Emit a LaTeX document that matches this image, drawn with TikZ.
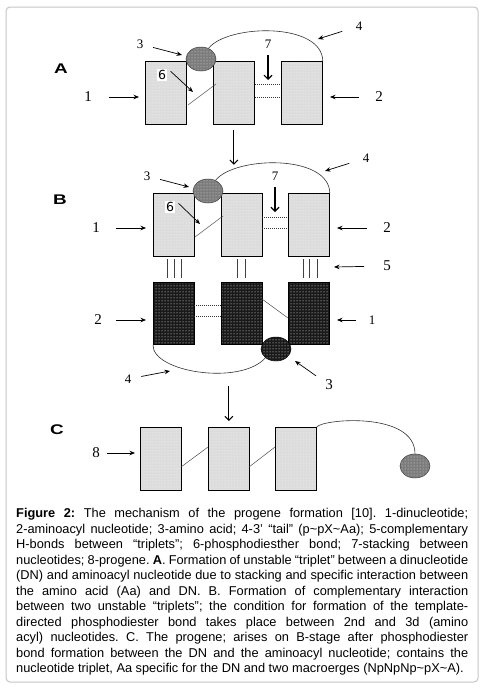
\documentclass[tikz,border=0pt]{standalone}
\usepackage{fontspec}
\setmainfont{Liberation Serif}
\newfontfamily\capfont{Liberation Sans}
\newfontfamily\sixfont{DejaVu Sans}
\usetikzlibrary{arrows.meta,shapes.geometric,patterns,positioning}
\definecolor{boxgray}{HTML}{DCDCDC}
\definecolor{aagray}{HTML}{7C7C7C}
\definecolor{framegray}{HTML}{C4C4C4}

\begin{document}
\begin{tikzpicture}[x=1pt, y=-1pt,
  nucl/.style={draw, line width=0.8pt, inner sep=0, minimum width=41pt, minimum height=63pt, anchor=north west, preaction={fill=boxgray}, pattern=dots, pattern color=white!85!boxgray},
  dnucl/.style={draw, line width=0.8pt, inner sep=0, minimum width=41pt, minimum height=62pt, anchor=north west, preaction={fill=black!90}, pattern=dots, pattern color=white},
  aa/.style={ellipse, draw=black!75, line width=0.5pt, inner sep=0, minimum width=30pt, minimum height=24pt, preaction={fill=aagray}, pattern=dots, pattern color=white!75!aagray},
  daa/.style={ellipse, draw=black, line width=0.5pt, inner sep=0, minimum width=30pt, minimum height=24pt, preaction={fill=black!90}, pattern=dots, pattern color=white},
  num/.style={font=\fontsize{15}{15}\selectfont, inner sep=0},
  snum/.style={font=\fontsize{13}{13}\selectfont, inner sep=0},
  six/.style={font=\sixfont\fontsize{12.5}{12.5}\selectfont, fill=white, inner sep=1.5pt},
  panel/.style={font=\capfont\bfseries\fontsize{14}{14}\selectfont, inner sep=0},
  arr/.style={-{Stealth[length=5.5pt,width=4.5pt]}, line width=0.7pt},
  varr/.style={-{Straight Barb[length=4pt,width=8pt]}, line width=1.1pt},
  tail/.style={line width=0.6pt, black!80},
  bond/.style={line width=0.45pt, black!75},
  stack/.style={dash pattern=on 1pt off 1pt, line width=0.5pt, black!80},
  hbond/.style={line width=0.9pt, black!75}]
  \useasboundingbox (0,0) rectangle (486,691);
  % 外框
  \draw[framegray, line width=1pt, rounded corners=4pt] (6,7) rectangle (478,682);

  % ===== A =====
  \node[panel] (pA) at (61,69) {\scalebox{1.35}[1]{A}};
  \node[nucl] (A1) at (145,61) {};
  \node[nucl] (A2) at (213,61) {};
  \node[nucl] (A3) at (281,61) {};
  \node[aa] (aaA) at (201,59) {};
  % 尾巴 4
  \draw[tail] (aaA.55) .. controls (228,24) and (322,22) .. (A3.north east);
  % 磷酸二酯键 6
  \draw[bond] (188,105) -- (216,84);
  % 堆积 7
  \draw[stack] (255,84) -- (281,84);
  \draw[stack] (255,97) -- (281,97);
  % 标号
  \node[num] (nA1) at (88,97) {1};
  \coordinate (eA1) at (139,97);
  \draw[arr, shorten <=17pt] (nA1) -- (eA1);
  \node[num] (nA2) at (379,97) {2};
  \coordinate (eA2) at (330,97);
  \draw[arr, shorten <=16pt] (nA2) -- (eA2);
  \node[snum] (nA3) at (140,44) {3};
  \coordinate (eA3) at (182,55);
  \draw[arr, shorten <=10pt] (nA3) -- (eA3);
  \node[snum] (nA4) at (359,26) {4};
  \coordinate (eA4) at (318,39);
  \draw[arr, shorten <=14pt] (nA4) -- (eA4);
  \node[snum] (nA7) at (268,44) {7};
  \coordinate (eA7) at (268,80);
  \draw[varr, shorten <=7pt] (nA7) -- (eA7);
  \node[six] (nA6) at (162,75) {6};
  \coordinate (eA6) at (193,92);
  \draw[arr, shorten <=4pt] (nA6.north east) -- (eA6);
  % A -> B
  \coordinate[below=40pt of A2.south] (dAB);
  \draw[varr, shorten <=5pt] (A2.south) -- (dAB);

  % ===== B =====
  \node[panel] (pB) at (60,200) {\scalebox{1.35}[1]{B}};
  \node[nucl] (B1) at (153,193) {};
  \node[nucl] (B2) at (221,193) {};
  \node[nucl] (B3) at (288,193) {};
  \node[aa] (aaB) at (208,191) {};
  \draw[tail] (aaB.55) .. controls (235,156) and (329,154) .. (B3.north east);
  \draw[bond] (195,237) -- (223,216);
  \draw[stack] (262,217) -- (288,217);
  \draw[stack] (262,228) -- (288,228);
  % 互补氢键 5
  \draw[hbond] (167,259) -- (167,278) (174,259) -- (174,278) (181,259) -- (181,278);
  \draw[hbond] (237,259) -- (237,278) (245,259) -- (245,278);
  \draw[hbond] (303,259) -- (303,278) (309,259) -- (309,278) (317,259) -- (317,278);
  % 下面的三联体
  \node[dnucl] (D1) at (153,282) {};
  \node[dnucl] (D2) at (221,282) {};
  \node[dnucl] (D3) at (288,282) {};
  \node[daa] (daaB) at (276,349) {};
  \draw[stack] (194,305) -- (221,305);
  \draw[stack] (194,316) -- (221,316);
  \draw[bond] (262,299) -- (288,318);
  \draw[tail] (D1.south west) .. controls (152,372) and (240,386) .. (daaB.220);
  % 标号
  \node[num] (nB1) at (96,228) {1};
  \coordinate (eB1) at (146,228);
  \draw[arr, shorten <=16pt] (nB1) -- (eB1);
  \node[num] (nB2) at (387,228) {2};
  \coordinate (eB2) at (337,228);
  \draw[arr, shorten <=16pt] (nB2) -- (eB2);
  \node[snum] (nB3) at (147,176) {3};
  \coordinate (eB3) at (189,187);
  \draw[arr, shorten <=10pt] (nB3) -- (eB3);
  \node[snum] (nB4) at (366,158) {4};
  \coordinate (eB4) at (325,171);
  \draw[arr, shorten <=14pt] (nB4) -- (eB4);
  \node[snum] (nB7) at (275,176) {7};
  \coordinate (eB7) at (275,212);
  \draw[varr, shorten <=7pt] (nB7) -- (eB7);
  \node[six] (nB6) at (170,207) {6};
  \coordinate (eB6) at (200,224);
  \draw[arr, shorten <=4pt] (nB6.north east) -- (eB6);
  \node[num] (nB5) at (387,266) {5};
  \coordinate (eB5) at (334,267);
  \draw[arr, shorten <=19pt] (nB5) -- (eB5);
  \node[num] (nD2) at (98,320) {2};
  \coordinate (eD2) at (146,320);
  \draw[arr, shorten <=14pt] (nD2) -- (eD2);
  \node[snum] (nD1) at (372,320) {1};
  \coordinate (eD1) at (337,320);
  \draw[arr, shorten <=13pt] (nD1) -- (eD1);
  \node[snum] (nD4) at (128,379) {4};
  \coordinate (eD4) at (170,371);
  \draw[arr, shorten <=10pt] (nD4) -- (eD4);
  \node[num] (nD3) at (329,385) {3};
  \coordinate (eD3) at (295,361);
  \draw[arr, shorten <=11pt] (nD3) -- (eD3);

  % ===== C =====
  \node[panel] (pC) at (57,430) {\scalebox{1.35}[1]{C}};
  \node[nucl] (C1) at (140,427) {};
  \node[nucl] (C2) at (208,427) {};
  \node[nucl] (C3) at (275,427) {};
  \node[aa] (aaC) at (415,466) {};
  \draw[bond] (181,467) -- (208,447);
  \draw[bond] (249,467) -- (275,447);
  \draw[tail] (C3.north east) .. controls (322,419) and (415,411) .. (aaC.north);
  \node[num] (nC8) at (96,453) {8};
  \coordinate (eC8) at (135,453);
  \draw[arr, shorten <=7pt] (nC8) -- (eC8);
  % B -> C
  \coordinate[above=41pt of C2.north] (dBC);
  \draw[varr, shorten >=6pt] (dBC) -- (C2.north);

  % 图注
  \node[anchor=base west, inner sep=0, text width=452pt, align=left, font=\capfont\fontsize{12.8}{15.5}\selectfont] (cap) at (16,517.5) {%
    \frenchspacing\spaceskip=0pt \xspaceskip=0pt
    \makebox[452pt][s]{\textbf{Figure 2:} The mechanism of the progene formation [10]. 1-dinucleotide;}\\
    \makebox[452pt][s]{2-aminoacyl nucleotide; 3-amino acid; 4-3’ “tail” (p\textasciitilde pX\textasciitilde Aa); 5-complementary}\\
    \makebox[452pt][s]{H-bonds between “triplets”; 6-phosphodiesther bond; 7-stacking between}\\
    \makebox[452pt][s]{nucleotides; 8-progene. \textbf{A}. Formation of unstable “triplet” between a dinucleotide}\\
    \makebox[452pt][s]{(DN) and aminoacyl nucleotide due to stacking and specific interaction between}\\
    \makebox[452pt][s]{the amino acid (Aa) and DN. B. Formation of complementary interaction}\\
    \makebox[452pt][s]{between two unstable “triplets”; the condition for formation of the template-}\\
    \makebox[452pt][s]{directed phosphodiester bond takes place between 2nd and 3d (amino}\\
    \makebox[452pt][s]{acyl) nucleotides. C. The progene; arises on B-stage after phosphodiester}\\
    \makebox[452pt][s]{bond formation between the DN and the aminoacyl nucleotide; contains the}\\
    nucleotide triplet, Aa specific for the DN and two macroerges (NpNpNp\textasciitilde pX\textasciitilde A).};
\end{tikzpicture}
\end{document}
